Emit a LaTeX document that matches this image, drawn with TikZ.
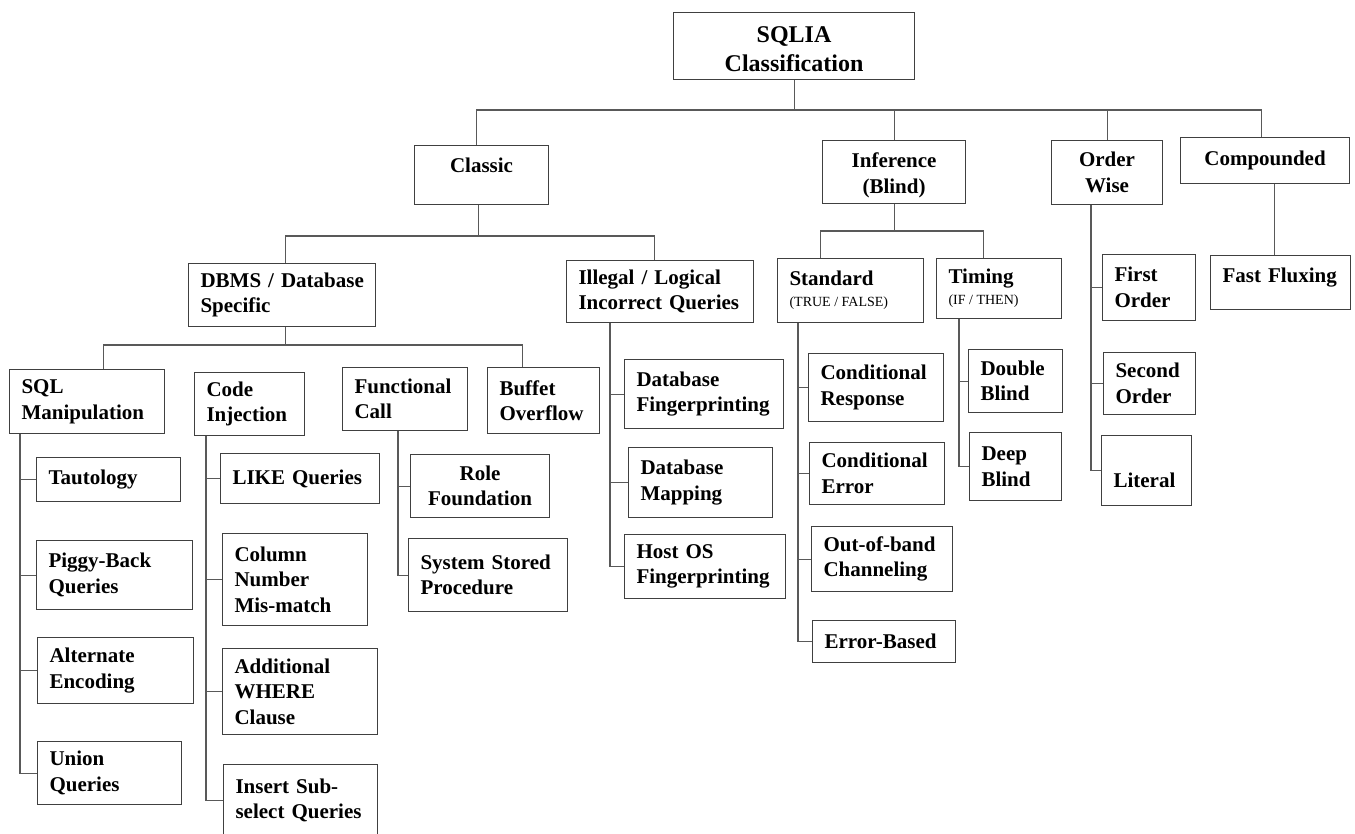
\documentclass[tikz,border=0pt]{standalone}
\usepackage{fontspec}
\setmainfont{Liberation Serif}

\begin{document}
\begin{tikzpicture}[
        x=1pt, y=-1pt,
        box/.style={rectangle, draw=black!75, line width=1.1pt, anchor=north west, align=left, inner xsep=12pt, inner ysep=0pt, font=\fontsize{21}{25.5}\selectfont\bfseries},
        cbox/.style={box, align=center},
        rootbox/.style={cbox, font=\fontsize{24}{29}\selectfont\bfseries},
        link/.style={draw=black!65, line width=1.1pt}
    ]

    \useasboundingbox (0,0) rectangle (1355,833);
    \fill[white] (0,0) rectangle (1355,833);

    % top levels
    \node[rootbox, text width=217pt, minimum height=67pt, text height=22.5pt] (root) at (673,12) {SQLIA\\Classification};
    \node[cbox, text width=110pt, minimum height=59pt, text depth=20pt] (classic) at (414,145) {Classic};
    \node[cbox, text width=119pt, minimum height=63pt, text height=21.5pt] (inference) at (822,140) {Inference\\(Blind)};
    \node[cbox, text width=87pt, minimum height=64pt] (orderwise) at (1051,140) {Order\\Wise};
    \node[cbox, text width=145pt, minimum height=46pt] (compounded) at (1180,137) {Compounded};

    \node[box, text width=163pt, minimum height=63pt] (dbms) at (188,263) {\mbox{DBMS / Database}\\Specific};
    \node[box, text width=163pt, minimum height=62pt] (illegal) at (566,260) {\mbox{Illegal / Logical}\\\mbox{Incorrect Queries}};
    \node[box, text width=122pt, minimum height=64pt] (standard) at (777,258) {Standard\\[-4.5pt]{\fontsize{14}{16}\selectfont\mdseries\spaceskip=0pt (TRUE / FALSE)}};
    \node[box, text width=101pt, minimum height=60pt] (timing) at (936,258) {Timing\\[-4.5pt]{\fontsize{14}{16}\selectfont\mdseries\spaceskip=0pt (IF / THEN)}};
    \node[box, text width=116pt, minimum height=54pt, text depth=15pt] (fastflux) at (1210,255) {\mbox{Fast Fluxing}};

    % order wise
    \node[box, text width=69pt, minimum height=66pt] (firstord) at (1102,254) {First\\Order};
    \node[box, text width=68pt, minimum height=62pt] (secondord) at (1103,352) {Second\\Order};
    \node[box, text width=66pt, minimum height=70pt, text height=34pt, text depth=0pt] (literal) at (1101,435) {Literal};

    % timing / standard
    \node[box, text width=70pt, minimum height=63pt] (double) at (968,349) {Double\\Blind};
    \node[box, text width=68pt, minimum height=68pt] (deep) at (969,432) {Deep\\Blind};
    \node[box, text width=111pt, minimum height=68pt] (condresp) at (808,353) {Conditional\\Response};
    \node[box, text width=111pt, minimum height=62pt] (conderr) at (809,442) {Conditional\\Error};
    \node[box, text width=117pt, minimum height=65pt] (oob) at (811,526) {Out-of-band\\Channeling};
    \node[box, text width=119pt, minimum height=42pt] (errbased) at (812,620) {Error-Based};

    % illegal / logical
    \node[box, text width=135pt, minimum height=69pt] (dbfp) at (624,359) {Database\\Fingerprinting};
    \node[box, text width=120pt, minimum height=70pt] (dbmap) at (628,447) {Database\\Mapping};
    \node[box, text width=137pt, minimum height=64pt] (hostos) at (624,534) {Host OS\\Fingerprinting};

    % dbms specific
    \node[box, text width=131pt, minimum height=64pt] (sqlm) at (9,369) {SQL\\Manipulation};
    \node[box, text width=86pt, minimum height=63pt] (codeinj) at (194,372) {Code\\Injection};
    \node[box, text width=101pt, minimum height=63pt] (funccall) at (342,367) {Functional\\Call};
    \node[box, text width=88pt, minimum height=66pt] (buffet) at (487,367) {Buffet\\Overflow};

    \node[box, text width=120pt, minimum height=44pt] (taut) at (36,457) {Tautology};
    \node[box, text width=132pt, minimum height=69pt] (piggy) at (36,540) {Piggy-Back\\Queries};
    \node[box, text width=132pt, minimum height=66pt] (altenc) at (37,637) {Alternate\\Encoding};
    \node[box, text width=120pt, minimum height=63pt] (union) at (37,741) {Union\\Queries};

    \node[box, text width=135pt, minimum height=50pt] (like) at (220,453) {LIKE Queries};
    \node[box, text width=121pt, minimum height=92pt] (column) at (222,533) {Column\\Number\\Mis-match};
    \node[box, text width=131pt, minimum height=86pt] (addwhere) at (222,648) {Additional\\WHERE\\Clause};
    \node[box, text width=130pt, minimum height=72pt] (insert) at (223,764) {Insert Sub-\\\mbox{select Queries}};

    \node[cbox, text width=115pt, minimum height=63pt] (role) at (410,454) {Role\\Foundation};
    \node[box, text width=135pt, minimum height=73pt] (sysproc) at (408,538) {\mbox{System Stored}\\Procedure};

    % connectors between levels
    \draw[link] (root.south) -- ++(0,31);
    \draw[link] ([xshift=-5pt]classic.north) -- ++(0,-35) -| ([xshift=-4pt]compounded.north);
    \draw[link] (inference.north) -- ++(0,-30);
    \draw[link] (orderwise.north) -- ++(0,-30);

    \draw[link] ([xshift=-3pt]classic.south) -- ++(0,32);
    \draw[link] ([xshift=3pt]dbms.north) -- ++(0,-27) -| ([xshift=-6pt]illegal.north);

    \draw[link] ([xshift=3pt]dbms.south) -- ++(0,19);
    \draw[link] ([xshift=16pt]sqlm.north) -- ++(0,-24) -| ([xshift=-21pt]buffet.north);

    \draw[link] (inference.south) -- ++(0,28);
    \draw[link] ([xshift=-30pt]standard.north) -- ++(0,-27) -| ([xshift=-16pt]timing.north);

    \draw[link] ([xshift=9pt]compounded.south) -- ([xshift=9pt]compounded.south |- fastflux.north);

    % trunks to leaves
    \coordinate (sqlmt) at ([xshift=11pt]sqlm.south west);
    \draw[link] (sqlmt) |- (union.west);
    \draw[link] (sqlmt |- taut.west) -- (taut.west);
    \draw[link] (sqlmt |- piggy.west) -- (piggy.west);
    \draw[link] (sqlmt |- altenc.west) -- (altenc.west);

    \coordinate (codet) at ([xshift=12pt]codeinj.south west);
    \draw[link] (codet) |- (insert.west);
    \draw[link] (codet |- like.west) -- (like.west);
    \draw[link] (codet |- column.west) -- (column.west);
    \draw[link] (codet |- addwhere.west) -- (addwhere.west);

    \coordinate (funct) at ([xshift=56pt]funccall.south west);
    \draw[link] (funct) |- (sysproc.west);
    \draw[link] (funct |- role.west) -- (role.west);

    \coordinate (illt) at ([xshift=44pt]illegal.south west);
    \draw[link] (illt) |- (hostos.west);
    \draw[link] (illt |- dbfp.west) -- (dbfp.west);
    \draw[link] (illt |- dbmap.west) -- (dbmap.west);

    \coordinate (stdt) at ([xshift=21pt]standard.south west);
    \draw[link] (stdt) |- (errbased.west);
    \draw[link] (stdt |- condresp.west) -- (condresp.west);
    \draw[link] (stdt |- conderr.west) -- (conderr.west);
    \draw[link] (stdt |- oob.west) -- (oob.west);

    \coordinate (timt) at ([xshift=23pt]timing.south west);
    \draw[link] (timt) |- (deep.west);
    \draw[link] (timt |- double.west) -- (double.west);

    \coordinate (ordt) at ([xshift=40pt]orderwise.south west);
    \draw[link] (ordt) |- (literal.west);
    \draw[link] (ordt |- firstord.west) -- (firstord.west);
    \draw[link] (ordt |- secondord.west) -- (secondord.west);

\end{tikzpicture}
\end{document}
